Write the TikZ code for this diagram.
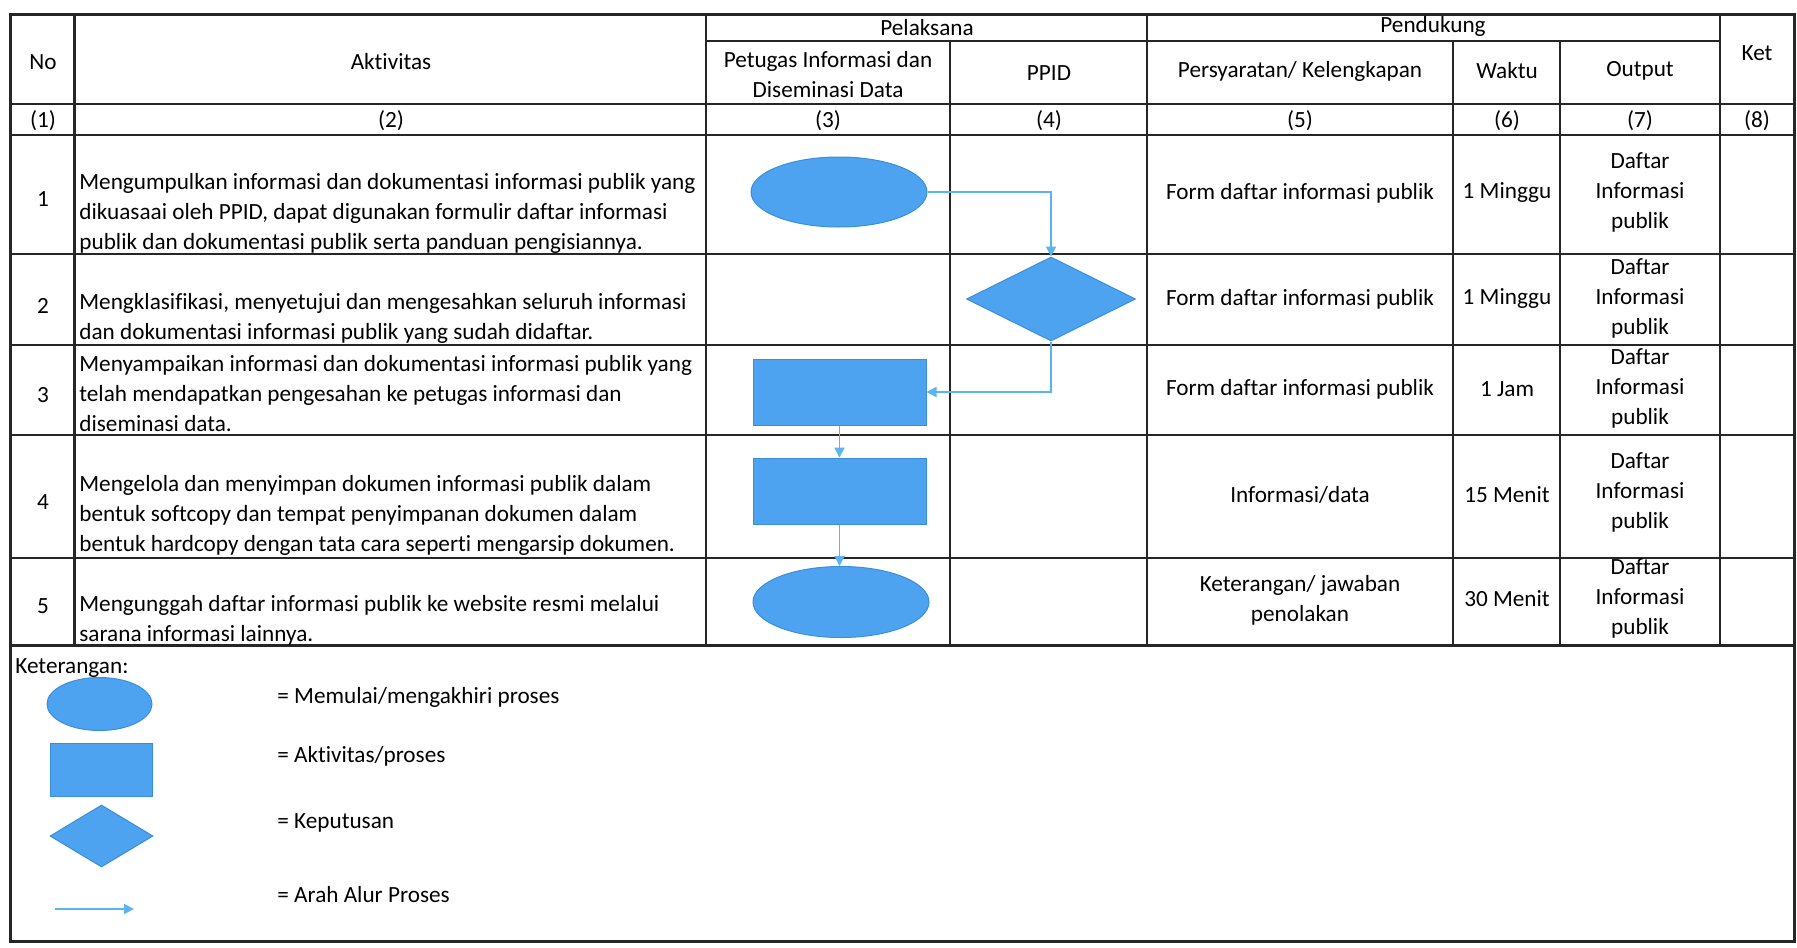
\documentclass[tikz,border=0pt]{standalone}
\usepackage{fontspec}
\setmainfont{Carlito}[Ligatures=NoCommon]
\usetikzlibrary{shapes.geometric,arrows.meta}
\definecolor{shapeblue}{HTML}{4DA3EF}
\definecolor{shapeedge}{HTML}{3A8FDB}
\definecolor{flowblue}{HTML}{5AB4F0}
\tikzset{
  grid/.style={line width=1.1pt,black!85},
  outer/.style={line width=1.5pt,black!85},
  txt/.style={font=\fontsize{11.6}{15}\selectfont,inner sep=0pt,align=center},
  ltxt/.style={font=\fontsize{11.6}{15}\selectfont,inner sep=0pt,align=left,anchor=west},
  startend/.style={ellipse,fill=shapeblue,draw=shapeedge,line width=0.5pt,inner sep=0pt},
  procbox/.style={rectangle,fill=shapeblue,draw=shapeedge,line width=0.5pt,inner sep=0pt},
  decide/.style={diamond,fill=shapeblue,draw=shapeedge,line width=0.5pt,inner sep=0pt},
  flow/.style={draw=flowblue,line width=0.8pt,-{Triangle[length=5pt,width=5pt]}},
}
\begin{document}
\begin{tikzpicture}[x=0.5pt,y=-0.5pt]
\useasboundingbox (0,0) rectangle (1797,947);
\fill[white] (0,0) rectangle (1797,947);
% ---- table grid ----
\draw[outer] (10,15) rectangle (1794,941);
% horizontal lines
\draw[grid] (706,41) -- (1720,41);
\draw[grid] (10,104) -- (1794,104);
\draw[grid] (10,135) -- (1794,135);
\draw[grid] (10,254) -- (1794,254);
\draw[grid] (10,345) -- (1794,345);
\draw[grid] (10,435) -- (1794,435);
\draw[grid] (10,558) -- (1794,558);
\draw[outer] (10,645) -- (1794,645);
% vertical lines
\draw[grid] (74.5,15) -- (74.5,645);
\draw[grid] (706,15) -- (706,645);
\draw[grid] (950,41) -- (950,645);
\draw[grid] (1147,15) -- (1147,645);
\draw[grid] (1453,41) -- (1453,645);
\draw[grid] (1560,41) -- (1560,645);
\draw[grid] (1720,15) -- (1720,645);
% ---- header ----
\node[txt] (hno) at (43,62) {No};
\node[txt] (hakt) at (391,62) {Aktivitas};
\node[txt] (hpel) at (927,28) {Pelaksana};
\node[txt] (hpen) at (1433,26) {Pendukung};
\node[txt] (hpet) at (828,75) {Petugas Informasi dan\\Diseminasi Data};
\node[txt] (hppid) at (1049,73) {PPID};
\node[txt] (hper) at (1300,71) {Persyaratan/ Kelengkapan};
\node[txt] (hwak) at (1507,71) {Waktu};
\node[txt] (hout) at (1640,71) {Output};
\node[txt] (hket) at (1757,53) {Ket};
\node[txt] (n1) at (43,121) {(1)};
\node[txt] (n2) at (391,121) {(2)};
\node[txt] (n3) at (828,121) {(3)};
\node[txt] (n4) at (1049,121) {(4)};
\node[txt] (n5) at (1300,121) {(5)};
\node[txt] (n6) at (1507,121) {(6)};
\node[txt] (n7) at (1640,121) {(7)};
\node[txt] (n8) at (1757,121) {(8)};
% ---- row 1 ----
\node[txt] (r1no) at (43,199) {1};
\node[ltxt] (r1a) at (79,213) {Mengumpulkan informasi dan dokumentasi informasi publik yang\\dikuasaai oleh PPID, dapat digunakan formulir daftar informasi\\publik dan dokumentasi publik serta panduan pengisiannya.};
\node[txt] (r1p) at (1300,193) {Form daftar informasi publik};
\node[txt] (r1w) at (1507,193) {1 Minggu};
\node[txt] (r1o) at (1640,192) {Daftar\\Informasi\\publik};
% ---- row 2 ----
\node[txt] (r2no) at (43,306) {2};
\node[ltxt] (r2a) at (79,318) {Mengklasifikasi, menyetujui dan mengesahkan seluruh informasi\\dan dokumentasi informasi publik yang sudah didaftar.};
\node[txt] (r2p) at (1300,299) {Form daftar informasi publik};
\node[txt] (r2w) at (1507,299) {1 Minggu};
\node[txt] (r2o) at (1640,298) {Daftar\\Informasi\\publik};
% ---- row 3 ----
\node[txt] (r3no) at (43,395) {3};
\node[ltxt] (r3a) at (79,394) {Menyampaikan informasi dan dokumentasi informasi publik yang\\telah mendapatkan pengesahan ke petugas informasi dan\\diseminasi data.};
\node[txt] (r3p) at (1300,389) {Form daftar informasi publik};
\node[txt] (r3w) at (1507,389) {1 Jam};
\node[txt] (r3o) at (1640,388) {Daftar\\Informasi\\publik};
% ---- row 4 ----
\node[txt] (r4no) at (43,502) {4};
\node[ltxt] (r4a) at (79,515) {Mengelola dan menyimpan dokumen informasi publik dalam\\bentuk softcopy dan tempat penyimpanan dokumen dalam\\bentuk hardcopy dengan tata cara seperti mengarsip dokumen.};
\node[txt] (r4p) at (1300,495) {Informasi/data};
\node[txt] (r4w) at (1507,495) {15 Menit};
\node[txt] (r4o) at (1640,492) {Daftar\\Informasi\\publik};
% ---- row 5 ----
\node[txt] (r5no) at (43,606) {5};
\node[ltxt] (r5a) at (79,620) {Mengunggah daftar informasi publik ke website resmi melalui\\sarana informasi lainnya.};
\node[txt] (r5p) at (1300,600) {Keterangan/ jawaban\\penolakan};
\node[txt] (r5w) at (1507,599) {30 Menit};
\node[txt] (r5o) at (1640,598) {Daftar\\Informasi\\publik};
% ---- flow shapes ----
\node[startend,minimum width=88pt,minimum height=35pt] (e1) at (839,192) {};
\node[decide,minimum width=84.5pt,minimum height=42pt,aspect=2] (d2) at (1051,299) {};
\node[procbox,minimum width=86.5pt,minimum height=33pt] (p3) at (839.5,392) {};
\node[procbox,minimum width=86.5pt,minimum height=33pt] (p4) at (839.5,491) {};
\node[startend,minimum width=88pt,minimum height=35.5pt] (e5) at (841,602) {};
\draw[flow] (e1.east) -| (d2.north);
\draw[flow] (d2.south) |- (p3.east);
\draw[flow] (p3.south) -- (p4.north);
\draw[flow] (p4.south) -- (p4.south |- e5.north);
% ---- legend ----
\node[ltxt,anchor=west] (ket) at (15,668) {Keterangan:};
\node[startend,minimum width=52.5pt,minimum height=26.5pt] (le) at (99.5,704) {};
\node[procbox,minimum width=51pt,minimum height=26.5pt] (lr) at (101,769.5) {};
\node[decide,minimum width=51.5pt,minimum height=31pt,aspect=1.6] (ld) at (101.5,836) {};
\coordinate (la1) at (55,909);
\coordinate (la2) at (134,909);
\draw[flow] (la1) -- (la2);
\node[ltxt] (lt1) at (277,697) {= Memulai/mengakhiri proses};
\node[ltxt] (lt2) at (277,756) {= Aktivitas/proses};
\node[ltxt] (lt3) at (277,823) {= Keputusan};
\node[ltxt] (lt4) at (277,895) {= Arah Alur Proses};
\end{tikzpicture}
\end{document}
